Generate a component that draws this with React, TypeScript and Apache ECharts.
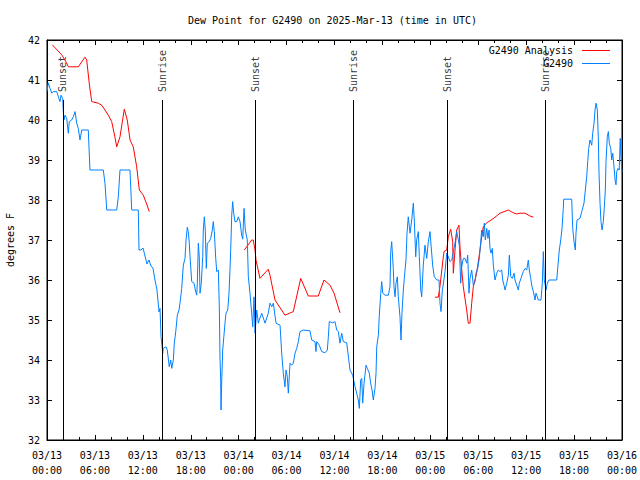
import React, { useEffect, useRef } from 'react';
import * as echarts from 'echarts';

const FONT = 'DejaVu Sans Mono';

const chartTitle = 'Dew Point for G2490 on 2025-Mar-13 (time in UTC)';
const yAxisName = 'degrees F';
const analysisName = 'G2490 Analysis';
const obsName = 'G2490';

// Hours since 2025-03-13 00:00 UTC, value in degrees F
const analysisSeg1: [number, number][] = [
  [0.66, 41.88], [1.84, 41.63], [2.25, 41.5], [2.67, 41.33], [3.92, 41.33], [4.76, 41.57], [4.97, 41.5],
  [5.3, 40.9], [5.6, 40.46], [6.42, 40.42], [6.85, 40.37], [7.26, 40.25], [7.68, 40.12], [8.1, 39.96],
  [8.5, 39.58], [8.73, 39.33], [9.14, 39.58], [9.68, 40.27], [10.05, 40.0], [10.4, 39.5], [10.8, 39.33],
  [11.23, 38.83], [11.56, 38.25], [12.06, 38.12], [12.48, 37.9], [12.81, 37.71],
];
const analysisSeg2: [number, number][] = [
  [24.71, 36.75], [25.63, 37.0], [25.83, 37.0], [26.05, 36.75], [26.17, 36.5], [26.67, 36.04], [27.7, 36.27],
  [27.92, 36.12], [28.55, 35.5], [29.8, 35.12], [30.84, 35.21], [31.77, 36.04], [32.72, 35.6], [33.97, 35.6],
  [34.68, 36.0], [35.44, 35.87], [35.94, 35.67], [36.69, 35.18],
];
const analysisSeg3: [number, number][] = [
  [48.58, 35.57], [49.0, 35.57], [49.2, 35.83], [49.55, 36.45], [49.71, 36.71], [50.05, 36.75], [50.25, 37.08],
  [50.55, 37.27], [50.8, 36.96], [50.88, 36.17], [51.09, 36.75], [51.3, 37.25], [51.59, 37.37], [51.71, 36.83],
  [51.93, 36.25], [52.13, 35.83], [52.55, 35.25], [52.75, 34.92], [52.97, 34.92], [53.18, 35.42], [53.38, 35.83],
  [53.8, 36.17], [54.22, 36.75], [54.43, 37.08], [54.63, 37.33], [55.06, 37.43], [55.47, 37.48], [56.1, 37.57],
  [56.72, 37.67], [57.76, 37.75], [58.39, 37.68], [58.81, 37.65], [59.23, 37.67], [59.85, 37.67], [60.48, 37.6],
  [60.9, 37.57],
];

const observations: [number, number][] = [
  [0, 40.71], [0.16, 40.93], [0.38, 40.79], [0.59, 40.67], [0.79, 40.71], [1.22, 40.71], [1.42, 40.58], [1.63, 40.46],
  [1.75, 40.62], [1.97, 40.54], [2.04, 40.21], [2.13, 40.0], [2.25, 40.12], [2.47, 40.04], [2.67, 39.67], [2.79, 39.96],
  [3.09, 40.0], [3.29, 40.08], [3.51, 40.21], [3.72, 39.92], [3.92, 39.79], [4.13, 39.5], [4.35, 39.75], [5.17, 39.75],
  [5.38, 38.75], [7.05, 38.75], [7.26, 38.42], [7.48, 37.75], [8.73, 37.75], [8.93, 38.08], [9.14, 38.75], [10.39, 38.75],
  [10.61, 37.75], [11.43, 37.75], [11.52, 36.75], [11.77, 36.75], [12.02, 36.8], [12.27, 36.6], [12.52, 36.4], [12.77, 36.5],
  [13.02, 36.35], [13.27, 36.3], [13.52, 36.0], [13.77, 35.75], [14.03, 35.2], [14.15, 35.29], [14.28, 34.58], [14.49, 34.17],
  [14.56, 34.29], [14.9, 34.33], [15.06, 34.25], [15.31, 33.83], [15.49, 34.0], [15.62, 33.79], [15.82, 34.0], [15.94, 34.42],
  [16.12, 34.71], [16.32, 35.12], [16.53, 35.25], [16.65, 35.42], [16.87, 35.79], [17.07, 36.37], [17.28, 36.54], [17.41, 37.0],
  [17.57, 37.32], [17.69, 37.21], [17.82, 36.92], [17.91, 36.58], [18.12, 35.96], [18.41, 35.92], [18.57, 35.75], [18.75, 35.62],
  [18.82, 35.92], [18.95, 36.92], [19.07, 36.58], [19.16, 35.67], [19.32, 35.92], [19.5, 36.58], [19.57, 37.25], [19.7, 37.58],
  [19.82, 37.25], [19.95, 36.29], [20.07, 36.92], [20.32, 36.96], [20.5, 37.04], [20.7, 37.25], [20.82, 37.46], [20.95, 37.21],
  [21.13, 36.54], [21.25, 36.21], [21.45, 36.25], [21.58, 35.33], [21.66, 34.08], [21.75, 33.5], [21.79, 32.75], [21.88, 33.5],
  [22.0, 34.25], [22.29, 34.92], [22.41, 35.17], [22.63, 35.25], [22.79, 35.67], [22.92, 36.29], [23.04, 37.0], [23.13, 37.62],
  [23.25, 37.96], [23.38, 37.67], [23.54, 37.46], [23.75, 37.46], [23.96, 37.58], [24.17, 37.46], [24.38, 37.12], [24.51, 37.02],
  [24.67, 37.79], [24.83, 37.25], [25.08, 37.0], [25.21, 36.08], [25.42, 35.67], [25.63, 35.17], [25.76, 34.83], [25.92, 35.58],
  [26.05, 34.67], [26.26, 35.25], [26.46, 34.92], [26.58, 35.0], [26.89, 35.17], [27.3, 34.92], [27.71, 35.17], [27.92, 35.42],
  [28.14, 35.33], [28.34, 35.42], [28.68, 34.92], [29.18, 34.87], [29.39, 34.17], [29.59, 33.67], [29.8, 33.33], [29.93, 33.75],
  [30.09, 33.58], [30.22, 33.17], [30.43, 33.92], [30.64, 33.87], [30.84, 33.92], [31.06, 34.17], [31.27, 34.29], [31.47, 34.46],
  [31.68, 34.71], [32.09, 34.75], [32.93, 34.73], [33.15, 34.5], [33.56, 34.46], [33.68, 34.21], [33.77, 34.46], [34.1, 34.37],
  [34.4, 34.21], [34.81, 34.18], [35.1, 34.25], [35.23, 34.58], [35.35, 34.96], [35.78, 34.93], [36.06, 34.96], [36.28, 34.75],
  [36.48, 34.71], [36.69, 34.42], [36.9, 34.67], [37.1, 34.46], [37.53, 34.43], [37.73, 34.1], [37.94, 33.75], [38.28, 33.62],
  [38.57, 33.33], [38.78, 33.17], [38.98, 33.0], [39.11, 32.79], [39.28, 33.5], [39.41, 33.54], [39.53, 32.92], [39.7, 33.42],
  [39.95, 33.87], [40.11, 33.79], [40.36, 33.67], [40.53, 33.42], [40.7, 33.25], [40.86, 33.0], [41.07, 33.29], [41.2, 33.67],
  [41.29, 34.33], [41.49, 34.62], [41.61, 35.12], [41.79, 35.67], [41.91, 35.96], [42.04, 35.67], [42.33, 35.62], [42.74, 35.62],
  [42.95, 35.83], [43.04, 36.71], [43.16, 36.96], [43.36, 36.29], [43.45, 35.83], [43.58, 35.58], [43.7, 35.92], [43.87, 36.08],
  [43.99, 35.58], [44.2, 35.08], [44.33, 34.5], [44.45, 35.17], [44.62, 35.75], [44.74, 36.04], [44.95, 36.5], [45.08, 37.17],
  [45.24, 37.58], [45.46, 37.17], [45.67, 37.5], [45.79, 37.75], [45.87, 37.92], [45.99, 37.5], [46.17, 36.58], [46.29, 37.0],
  [46.5, 37.21], [46.62, 36.58], [46.8, 35.75], [46.92, 35.58], [47.12, 36.37], [47.33, 36.87], [47.55, 36.54], [47.75, 36.96],
  [47.96, 37.21], [48.09, 36.87], [48.3, 36.35], [48.5, 36.08], [48.8, 36.0], [49.09, 36.0], [49.21, 35.42], [49.34, 35.21],
  [49.5, 35.75], [49.63, 35.9], [49.84, 36.21], [50.05, 36.67], [50.25, 36.58], [50.46, 36.46], [50.68, 36.5], [50.88, 36.71],
  [51.09, 36.92], [51.3, 37.21], [51.43, 37.08], [51.63, 36.87], [51.8, 35.92], [51.93, 36.33], [52.13, 36.54], [52.34, 36.54],
  [52.56, 36.42], [52.68, 36.62], [52.84, 35.67], [52.97, 36.04], [53.18, 36.25], [53.38, 35.87], [53.6, 35.96], [53.72, 36.17],
  [53.93, 36.29], [54.13, 36.54], [54.31, 36.96], [54.43, 37.25], [54.63, 37.08], [54.76, 37.42], [54.89, 37.0], [55.06, 37.29],
  [55.22, 37.04], [55.35, 37.25], [55.47, 36.79], [55.6, 36.67], [55.76, 36.79], [55.89, 36.37], [56.1, 36.0], [56.31, 36.17],
  [56.51, 36.25], [56.73, 36.21], [56.94, 36.25], [57.06, 36.0], [57.23, 35.87], [57.35, 35.75], [57.57, 35.92], [57.77, 36.12],
  [57.89, 36.62], [58.07, 36.08], [58.27, 36.04], [58.48, 36.17], [58.6, 36.0], [58.82, 35.87], [59.02, 35.75], [59.14, 35.92],
  [59.35, 36.04], [59.64, 36.21], [59.86, 36.29], [60.07, 36.25], [60.27, 36.5], [60.39, 36.25], [60.57, 36.04], [60.69, 35.87],
  [60.9, 35.71], [61.11, 35.5], [61.23, 35.67], [61.4, 35.58], [61.52, 35.5], [61.86, 35.5], [62.02, 35.92], [62.15, 36.71],
  [62.27, 36.0], [62.49, 35.75], [62.65, 35.92], [62.86, 36.0], [63.83, 36.0], [63.95, 36.3], [64.15, 36.75], [64.33, 37.0],
  [64.49, 37.29], [64.65, 37.79], [64.7, 38.02], [65.7, 38.02], [65.83, 37.29], [65.99, 36.96], [66.15, 36.75], [66.24, 37.17],
  [66.37, 37.5], [66.74, 37.54], [66.96, 37.71], [67.24, 37.92], [67.41, 38.25], [67.58, 38.58], [67.71, 38.96], [67.83, 39.29],
  [67.99, 39.5], [68.21, 39.37], [68.33, 39.67], [68.5, 39.92], [68.62, 40.25], [68.75, 40.42], [68.91, 40.25], [69.03, 39.58],
  [69.12, 38.67], [69.25, 37.92], [69.37, 37.46], [69.5, 37.25], [69.66, 37.46], [69.79, 37.83], [69.91, 38.25], [70.0, 38.96],
  [70.16, 39.58], [70.29, 39.71], [70.41, 39.42], [70.59, 39.29], [70.71, 39.0], [70.84, 39.17], [71.0, 38.83], [71.13, 38.5],
  [71.25, 38.38], [71.34, 38.71], [71.5, 38.79], [71.65, 38.75], [71.78, 39.54], [71.86, 39.08], [71.99, 38.7],
];

const eventNames = ['Sunset', 'Sunrise', 'Sunset', 'Sunrise', 'Sunset', 'Sunrise'];
const eventHours = [2.0, 14.4, 26.05, 38.32, 50.09, 62.36];
const eventLabelValue = 40.7;
const eventLineTop = 40.5;

const yMin = 32;
const yMax = 42;
const xMin = 0;
const xMax = 72;
const xStep = 6;

function fmtX(v: number): string {
  const day = 13 + Math.floor(v / 24);
  const h = v % 24;
  return `03/${day}\n${String(h).padStart(2, '0')}:00`;
}

export default function App() {
  const ref = useRef<HTMLDivElement>(null);
  useEffect(() => {
    const chart = echarts.init(ref.current!, null, { renderer: 'svg' });
    const textBase = { fontFamily: FONT, fontSize: 10, color: '#000' };
    const axisCommon = {
      axisLine: { show: true, onZero: false, lineStyle: { color: '#000', width: 1 } },
      splitLine: { show: false },
    };
    const gap: any = ['-', '-'];
    const analysisData: any[] = [...analysisSeg1, gap, ...analysisSeg2, gap, ...analysisSeg3];

    chart.setOption({
      animation: false,
      backgroundColor: '#fff',
      title: {
        text: chartTitle,
        left: 183,
        top: 10,
        textStyle: { ...textBase, fontWeight: 'normal' },
      },
      legend: {
        data: [analysisName, obsName],
        orient: 'vertical',
        right: 25,
        top: 40,
        align: 'right',
        icon: 'rect',
        itemWidth: 28,
        itemHeight: 1,
        itemGap: 2,
        selectedMode: false,
        textStyle: { ...textBase, lineHeight: 11, padding: [0, 4, 0, 0] },
      },
      grid: {
        left: 47, right: 18, top: 40, bottom: 40,
        containLabel: false,
        outerBoundsMode: 'none',
        show: true, borderColor: '#000', borderWidth: 1,
      },
      xAxis: [
        {
          type: 'value', min: xMin, max: xMax, interval: xStep, position: 'bottom',
          ...axisCommon,
          axisTick: { show: true, inside: true, length: 5, lineStyle: { color: '#000' } },
          minorTick: { show: true, splitNumber: 3, length: 3, lineStyle: { color: '#000' } },
          axisLabel: { ...textBase, margin: 8, lineHeight: 15, formatter: fmtX },
        },
        {
          type: 'value', min: xMin, max: xMax, interval: xStep, position: 'top',
          ...axisCommon,
          axisTick: { show: true, inside: true, length: 5, lineStyle: { color: '#000' } },
          minorTick: { show: true, splitNumber: 3, length: 3, lineStyle: { color: '#000' } },
          axisLabel: { show: false },
        },
      ],
      yAxis: [
        {
          type: 'value', min: yMin, max: yMax, interval: 1, position: 'left',
          ...axisCommon,
          name: yAxisName, nameLocation: 'middle', nameGap: 32, nameRotate: 90,
          nameTextStyle: { ...textBase },
          axisTick: { show: true, inside: true, length: 5, lineStyle: { color: '#000' } },
          axisLabel: { ...textBase, margin: 7 },
        },
        {
          type: 'value', min: yMin, max: yMax, interval: 1, position: 'right',
          ...axisCommon,
          axisTick: { show: true, inside: true, length: 5, lineStyle: { color: '#000' } },
          axisLabel: { show: false },
        },
      ],
      series: [
        {
          name: analysisName, type: 'line', xAxisIndex: 0, yAxisIndex: 0,
          data: analysisData, showSymbol: false, connectNulls: false,
          color: '#ff0000', lineStyle: { width: 1, color: '#ff0000' }, silent: true,
        },
        {
          name: obsName, type: 'line', xAxisIndex: 0, yAxisIndex: 0,
          data: observations, showSymbol: false,
          color: '#0080ff', lineStyle: { width: 1, color: '#0080ff' }, silent: true,
        },
        {
          name: 'events', type: 'scatter', xAxisIndex: 0, yAxisIndex: 0,
          symbolSize: 1, itemStyle: { color: 'rgba(0,0,0,0)' }, silent: true,
          data: eventHours.map((h, i) => ({ value: [h, eventLabelValue], name: eventNames[i] })),
          label: {
            show: true, formatter: '{b}', position: 'inside', rotate: 90,
            align: 'left', verticalAlign: 'middle', ...textBase,
          },
          markLine: {
            silent: true, symbol: ['none', 'none'],
            label: { show: false },
            lineStyle: { color: '#000', width: 1, type: 'solid' },
            data: eventHours.map((h) => [{ coord: [h, yMin] }, { coord: [h, eventLineTop] }]),
          },
        },
      ],
    });
    return () => chart.dispose();
  }, []);
  return <div ref={ref} style={{ position: 'fixed', left: 0, top: 0, width: 640, height: 480 }} />;
}
